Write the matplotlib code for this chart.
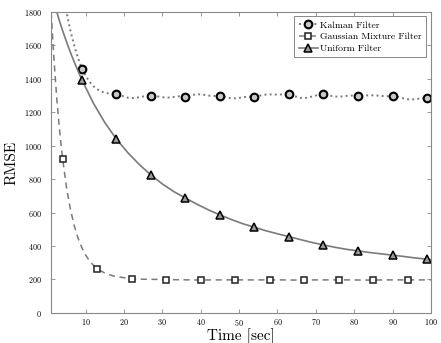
import numpy as np
import matplotlib
matplotlib.use("Agg")
import matplotlib.pyplot as plt

# RMSE over time for the three filters
kalman_t = [4, 5, 6, 7, 8, 9, 10, 11, 12, 13, 14, 15, 16, 17, 18,
            19.5, 21, 22.5, 24, 25.5, 27, 28.5, 30, 31.5, 33, 34.5, 36,
            37.5, 39, 40.5, 42, 43.5, 45, 46.5, 48, 49.5, 51, 52.5, 54,
            55.5, 57, 58.5, 60, 61.5, 63, 64.5, 66, 67.5, 69, 70.5, 72,
            73.5, 75, 76.5, 78, 79.5, 81, 82.5, 84, 85.5, 87, 88.5, 90,
            91.5, 93, 94.5, 96, 97.5, 99, 100]
kalman_rmse = [1960, 1800, 1690, 1600, 1525, 1461, 1418, 1383, 1356, 1338, 1325, 1317, 1312, 1309, 1308,
               1298, 1287, 1285, 1290, 1297, 1300, 1296, 1290, 1288, 1292, 1296, 1294,
               1302, 1308, 1306, 1300, 1298, 1298, 1290, 1283, 1284, 1290, 1294, 1294,
               1300, 1306, 1307, 1306, 1307, 1308, 1296, 1286, 1286, 1294, 1303, 1308,
               1300, 1294, 1294, 1298, 1300, 1298, 1300, 1302, 1301, 1298, 1296, 1296,
               1292, 1282, 1276, 1278, 1284, 1284, 1285]
kalman_marks = [9, 18, 27, 36, 45, 54, 63, 72, 81, 90, 99]

gauss_t = [1, 1.5, 2, 2.5, 3, 3.5, 4, 5, 6, 7, 8, 9, 10, 11, 12, 13, 14, 15, 16, 17, 18,
           20, 22, 25, 28, 31, 34, 37, 40, 43, 46, 49, 52, 55, 58, 61, 64, 67, 70,
           73, 76, 79, 82, 85, 88, 91, 94, 97, 100]
gauss_rmse = [1800, 1603, 1428, 1274, 1140, 1022, 920, 751, 622, 523, 448, 390, 345, 311, 285, 265,
              250, 238, 229, 222, 217, 210, 205, 201, 200, 199, 198, 197, 196, 197, 197, 197,
              197, 197, 197, 197, 196, 196, 197, 197, 197, 197, 196, 196, 197, 197, 197, 197, 197]
gauss_marks = [4, 13, 22, 31, 40, 49, 58, 67, 76, 85, 94]

unif_t = [1.5, 2, 3, 4, 5, 6, 7, 8, 9, 12, 15, 18, 21, 24, 27, 30, 33, 36, 39, 42, 45,
          48, 51, 54, 57, 60, 63, 66, 69, 72, 75, 78, 81, 84, 87, 90, 93, 96, 99, 100]
unif_rmse = [1930, 1840, 1758, 1688, 1622, 1560, 1502, 1447, 1395, 1255, 1138, 1040, 958, 887,
             825, 771, 725, 687, 650, 616, 586, 558, 533, 512, 491, 473, 456, 438, 421, 406,
             392, 380, 371, 361, 353, 345, 337, 328, 321, 318]
unif_marks = [9, 18, 27, 36, 45, 54, 63, 72, 81, 90, 99]

plt.rcParams.update({"font.family": "serif", "font.serif": ["cmr10", "DejaVu Serif"],
                     "mathtext.fontset": "cm", "axes.formatter.use_mathtext": True})

line_c = "#7a7a7a"
fig = plt.figure(figsize=(4.41, 3.43), dpi=100)
ax = fig.add_axes([0.116, 0.088, 0.861, 0.877])

def marks_of(t, m):
    return list(np.nonzero(np.isin(t, m))[0])

ax.plot(kalman_t, kalman_rmse, ":", color=line_c, lw=1.4, marker="o", ms=5.5,
        mfc="#c8c8c8", mec="black", mew=1.5, markevery=marks_of(kalman_t, kalman_marks),
        label="Kalman Filter")
ax.plot(gauss_t, gauss_rmse, "--", color=line_c, lw=1.1, dashes=(4, 3), marker="s", ms=4.5,
        mfc="white", mec="#222222", mew=1.1, markevery=marks_of(gauss_t, gauss_marks),
        label="Gaussian Mixture Filter")
ax.plot(unif_t, unif_rmse, "-", color=line_c, lw=1.2, marker="^", ms=6,
        mfc="#9a9a9a", mec="black", mew=1.1, markevery=marks_of(unif_t, unif_marks),
        label="Uniform Filter")

ax.set_xlim(1, 100)
ax.set_ylim(0, 1800)
ax.set_xticks(np.arange(10, 101, 10))
ax.set_yticks(np.arange(0, 1801, 200))
ax.tick_params(direction="in", top=True, right=True, labelsize=5.8, length=3,
               color="#888888", width=0.6)
ax.tick_params(axis="x", pad=3)
ax.tick_params(axis="y", pad=7)
for s in ax.spines.values():
    s.set_color("#888888"); s.set_linewidth(0.8)

ax.set_xlabel("Time [sec]", fontsize=11, labelpad=0)
ax.set_ylabel("RMSE", fontsize=11, labelpad=4)

leg = ax.legend(loc="upper right", fontsize=7, fancybox=False, framealpha=1,
                edgecolor="#888888", handlelength=2.0, borderpad=0.45, labelspacing=0.3,
                handletextpad=0.25, borderaxespad=0.45)
leg.get_frame().set_linewidth(0.7)

fig.savefig("out.png", dpi=100)
